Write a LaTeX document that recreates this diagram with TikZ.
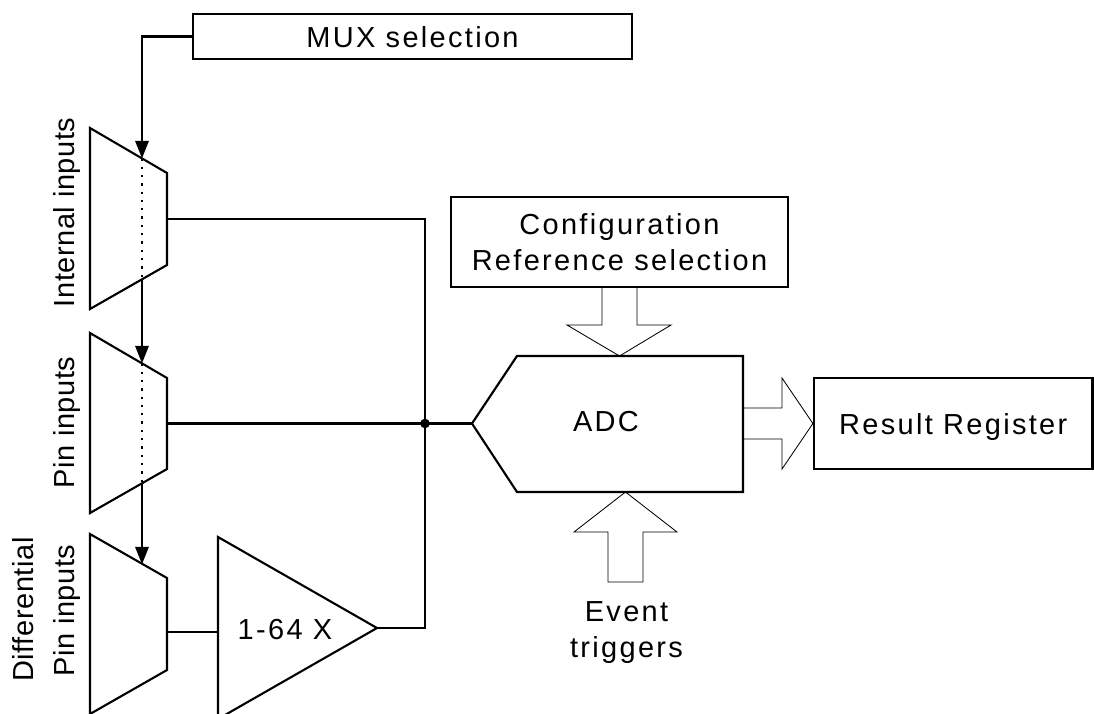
\documentclass[tikz,border=0pt]{standalone}
\usepackage{fontspec}
\setmainfont{Liberation Sans}[LetterSpace=2]
\newfontfamily\spacedfont{Liberation Sans}[LetterSpace=8]
\usetikzlibrary{arrows.meta}

\begin{document}
\begin{tikzpicture}[x=0.025cm, y=-0.025cm,
    every node/.style={font=\spacedfont\fontsize{20.6pt}{25.6pt}\selectfont, inner sep=0pt},
    box/.style={draw, line width=1.5pt, text depth=0pt, align=center},
    wire/.style={line width=1.5pt},
    sel/.style={wire, -{Triangle[width=9.5pt, length=12.5pt]}},
    dots/.style={line width=1.8pt, dash pattern=on 1.6pt off 4.3pt},
    hollow/.style={line width=0.6pt},
    side/.style={rotate=90, anchor=base, font=\rmfamily\fontsize{20.6pt}{25.6pt}\selectfont}
  ]
  \useasboundingbox (0,0) rectangle (1094,713);

  \node[box, minimum width=10.975cm, minimum height=1.125cm] (muxsel) at (412.5,36.5) {MUX selection};
  \node[box, minimum width=8.425cm, minimum height=2.25cm] (config) at (619.5,242) {Configuration\\Reference selection};
  \node[box, minimum width=6.9625cm, minimum height=2.275cm] (result) at (953.25,423.5) {Result Register};

  \draw[wire] (90,128) -- (167,173) -- (167,265) -- (90,309) -- cycle;
  \draw[wire] (90,333) -- (167,378) -- (167,469) -- (90,513) -- cycle;
  \draw[wire] (90,534) -- (167,578) -- (167,670) -- (90,714) -- cycle;
  \coordinate (m1t) at (142,158.4);
  \coordinate (m1b) at (142,279.3);
  \coordinate (m1o) at (167,219);
  \coordinate (m2t) at (142,363.4);
  \coordinate (m2b) at (142,484.3);
  \coordinate (m2o) at (167,423.5);
  \coordinate (m3t) at (142,564.4);
  \coordinate (m3o) at (167,632);

  \node[side] (intlbl) at (74,212.5) {Internal inputs};
  \node[side] (pinlbl) at (74,422.5) {Pin inputs};
  \node[side] (difflbl) at (33,609.5) {Differential};
  \node[side] (dpinlbl) at (74,610.5) {Pin inputs};

  \draw[wire] (218,537) coordinate (ampin0) -- (377,628) coordinate (ampout) -- (218,719) -- cycle;
  \coordinate (ampin) at (218,632);
  \node (gain) at (285,629.5) {1-64 X};

  \draw[wire] (472,423.5) coordinate (adcin) -- (517,356) -- (743,356) -- (743,492) -- (517,492) -- cycle;
  \coordinate (adct) at (619.5,356);
  \coordinate (adcb) at (625.5,492);
  \coordinate (adcr) at (743,423.5);
  \node (adc) at (606,422) {ADC};

  \coordinate (jn) at (425,423.5);

  \draw[sel] (muxsel.west) -| (m1t);
  \draw[sel] (m1b) -- (m2t);
  \draw[sel] (m2b) -- (m3t);
  \draw[dots] (m1t) -- (m1b);
  \draw[dots] (m2t) -- (m2b);

  \draw[wire] (m1o) -| (jn);
  \draw[wire] (m2o) -- (jn);
  \draw[wire] (ampout) -| (jn);
  \draw[wire] (m3o) -- (ampin);
  \draw[wire] (jn) -- (adcin);
  \fill (jn) circle[radius=0.12cm];

  \draw[hollow] (602,287) -- (602,325) -- (567,325) -- (adct) -- (671,325) -- (637,325) -- (637,287);
  \draw[hollow] (adcr |- 0,408) -- (782,408) -- (782,378) -- (result.west) -- (782,469) -- (782,439) -- (adcr |- 0,439);
  \draw[hollow] (608,582) -- (608,532) -- (574,532) -- (adcb) -- (677,532) -- (643,532) -- (643,582) -- cycle;

  \node[align=center] (events) at (626.5,633) {Event\\triggers};
\end{tikzpicture}
\end{document}
